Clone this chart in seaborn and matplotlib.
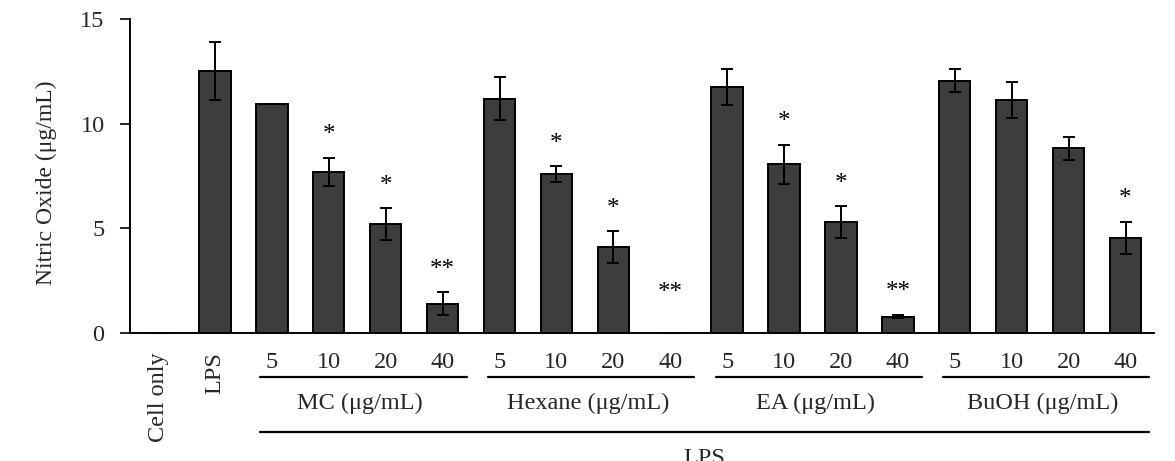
import seaborn as sns
import matplotlib.pyplot as plt
import numpy as np
import pandas as pd

# data
groups = ["MC", "Hexane", "EA", "BuOH"]
doses = ["5", "10", "20", "40"]
cat_ids = ["Cell only", "LPS"] + [g + " " + d for g in groups for d in doses]
tick_labels = ["Cell only", "LPS"] + doses * 4
no_values = [0.0, 12.5,
             10.95, 7.7, 5.2, 1.4,
             11.2, 7.6, 4.1, 0.0,
             11.75, 8.05, 5.3, 0.78,
             12.05, 11.12, 8.82, 4.55]
no_sd = [0.0, 1.38,
         0.0, 0.66, 0.75, 0.55,
         1.02, 0.37, 0.75, 0.0,
         0.86, 0.95, 0.75, 0.08,
         0.55, 0.86, 0.56, 0.77]
stars = ["", "",
         "", "*", "*", "**",
         "", "*", "*", "**",
         "", "*", "*", "**",
         "", "", "", "*"]

sns.set_theme(style="white")
plt.rcParams['font.family'] = ['Liberation Serif', 'DejaVu Serif']
fs = 17.5

df = pd.DataFrame({"cat": cat_ids, "no": no_values})

f = plt.figure(figsize=(11.75, 4.61), dpi=100)
ax = f.add_axes([0.1103, 0.2777, 0.8718, 0.6811])

sns.barplot(data=df, x="cat", y="no", order=cat_ids, color="#3d3d3d",
            saturation=1, edgecolor="black", linewidth=1.4, width=0.55,
            errorbar=None, ax=ax)
xs = np.arange(len(cat_ids))
ax.errorbar(xs, no_values, yerr=no_sd, fmt="none", ecolor="black",
            elinewidth=1.4, capsize=4.5, capthick=1.4)

for x, v, s, t in zip(xs, no_values, no_sd, stars):
    if t:
        ax.text(x, max(v + s + 0.55, 1.4), t, ha="center", va="bottom",
                fontsize=18, color="black")

ax.set_xlim(-0.5, len(cat_ids) - 0.5)
ax.set_ylim(0, 15)
ax.set_yticks([0, 5, 10, 15])
ax.set_ylabel("Nitric Oxide (μg/mL)", fontsize=17)
ax.yaxis.set_label_coords(-0.071, 0.478)
ax.set_xlabel("")
sns.despine(ax=ax)
for sp in ["left", "bottom"]:
    ax.spines[sp].set_linewidth(1.4)
    ax.spines[sp].set_color("black")
ax.tick_params(axis="y", left=True, length=7, width=1.4, pad=11, labelsize=fs)
ax.tick_params(axis="x", bottom=False, pad=8, labelsize=fs)
ax.set_xticks(xs)
ax.set_xticklabels(tick_labels)
for lab in ax.get_xticklabels()[:2]:
    lab.set_rotation(90)
    lab.set_va("top")

# group brackets under the dose labels
tr = ax.get_xaxis_transform()
for i, g in enumerate(groups):
    a = 2 + 4 * i
    b = a + 3
    ax.plot([a - 0.2, b + 0.42], [-0.14, -0.14], color="black", lw=1.6,
            transform=tr, clip_on=False)
    ax.text((a + b) / 2 + 0.05, -0.225, g + " (μg/mL)", transform=tr,
            ha="center", va="center", fontsize=fs)
ax.plot([1.8, 17.42], [-0.315, -0.315], color="black", lw=1.6,
        transform=tr, clip_on=False)
ax.text(9.6, -0.365, "LPS", transform=tr, ha="center", va="top", fontsize=fs)

f.savefig("out.png", dpi=100)
